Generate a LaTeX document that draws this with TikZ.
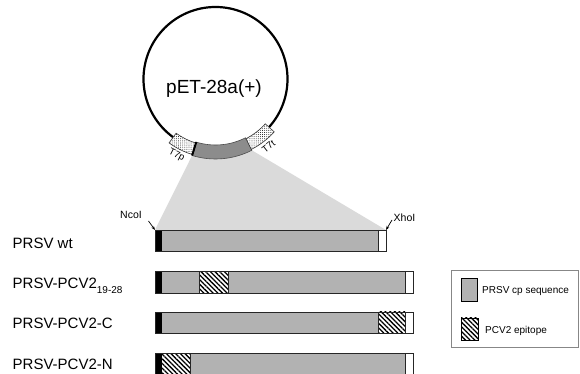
\documentclass[tikz,border=0pt]{standalone}
\usepackage{fontspec}
\setmainfont{Liberation Sans}
\usetikzlibrary{patterns.meta,calc,arrows.meta}
\definecolor{bargray}{RGB}{178,178,178}
\definecolor{bandgray}{RGB}{140,140,140}
\definecolor{projgray}{RGB}{218,218,218}
\definecolor{legframe}{RGB}{135,135,135}
\begin{document}
\begin{tikzpicture}[x=1pt,y=1pt,
  outl/.style={draw=black!85,line width=0.9pt},
  hatchfill/.style={preaction={fill=white},pattern={Lines[angle=-45,distance=3.3pt,line width=1.3pt]},pattern color=black},
  dotfill/.style={preaction={fill=white},pattern={Dots[distance=2.1pt,radius=0.45pt]},pattern color=black},
  barnode/.style={inner sep=0pt,outer sep=0pt,minimum height=21.5pt,anchor=north west,fill=bargray},
  rowlabel/.style={font=\fontsize{15}{18}\selectfont,anchor=base west,inner sep=0pt},
  smalltext/.style={font=\fontsize{10}{12}\selectfont,inner sep=0pt},
  site/.style={font=\fontsize{10.5}{12}\selectfont,anchor=base west,inner sep=0pt},
  tlabel/.style={font=\fontsize{9.5}{10}\selectfont,inner sep=0pt},
  arr/.style={-{Stealth[length=4pt,width=3pt]},line width=0.7pt}]
\clip (0,0) rectangle (580,374);
\fill[white] (0,0) rectangle (580,374);

% plasmid
\coordinate (c) at (215.5,295);
\draw[line width=2.2pt] (c) circle[radius=72];
\node[font=\fontsize{19}{22}\selectfont,anchor=base,inner sep=0pt] (pet) at (214,280) {pET-28a(+)};

% bars (nodes for names)
\node[barnode,minimum width=231pt] (b1) at (155,144) {};
\node[barnode,minimum width=258pt] (b2) at (155,102.5) {};
\node[barnode,minimum width=258pt] (b3) at (155,62) {};
\node[barnode,minimum width=258pt] (b4) at (155,20.5) {};

% projection
\fill[projgray] (b1.north west) -- ($(c)+(253:80)$) arc[start angle=253,end angle=297,radius=80] -- (b1.north east) -- cycle;

% band and promoter/terminator boxes
\draw[fill=bandgray,draw=black!70,line width=0.6pt] ($(c)+(253:66)$) -- ($(c)+(253:80)$) arc[start angle=253,end angle=297,radius=80] -- ($(c)+(297:66)$) arc[start angle=297,end angle=253,radius=66] -- cycle;
\draw[dotfill,draw=black!80,line width=0.6pt] ($(c)+(234:67)$) -- ($(c)+(234:79)$) arc[start angle=234,end angle=253,radius=79] -- ($(c)+(253:67)$) arc[start angle=253,end angle=234,radius=67] -- cycle;
\draw[dotfill,draw=black!80,line width=0.6pt] ($(c)+(297:67)$) -- ($(c)+(297:79)$) arc[start angle=297,end angle=318,radius=79] -- ($(c)+(318:67)$) arc[start angle=318,end angle=297,radius=67] -- cycle;
\draw[line width=2pt] ($(c)+(253:66)$) -- ($(c)+(253:80)$);
\node[tlabel,rotate=-27] (t7p) at ($(c)+(243:86)$) {T7p};
\node[tlabel,rotate=38] (t7t) at ($(c)+(308:86)$) {T7t};

% bar 1: PRSV wt
\fill[black] (155,144) rectangle (162,122.5);
\fill[white] (378,144) rectangle (386,122.5);
\draw[outl] (378,144) -- (378,122.5);
\draw[outl] (b1.north west) rectangle (b1.south east);

% bar 2
\fill[black] (155,102.5) rectangle (162,81);
\path[hatchfill] (199,102.5) rectangle (228,81);
\fill[white] (405,102.5) rectangle (413,81);
\draw[outl] (199,102.5) -- (199,81) (228,102.5) -- (228,81) (405,102.5) -- (405,81);
\draw[outl] (b2.north west) rectangle (b2.south east);

% bar 3
\fill[black] (155,62) rectangle (162,40.5);
\path[hatchfill] (378,62) rectangle (405,40.5);
\fill[white] (405,62) rectangle (413,40.5);
\draw[outl] (378,62) -- (378,40.5) (405,62) -- (405,40.5);
\draw[outl] (b3.north west) rectangle (b3.south east);

% bar 4
\fill[black] (155,20.5) rectangle (162,-1);
\path[hatchfill] (162,20.5) rectangle (190,-1);
\fill[white] (405,20.5) rectangle (413,-1);
\draw[outl] (190,20.5) -- (190,-1) (405,20.5) -- (405,-1);
\draw[outl] (b4.north west) rectangle (b4.south east);

% row labels
\node[rowlabel] (l1) at (12.5,125.7) {PRSV wt};
\node[rowlabel] (l2) at (12.5,85) {PRSV-PCV2\raisebox{-0.32em}{\fontsize{10}{12}\selectfont 19-28}};
\node[rowlabel] (l3) at (12.5,45) {PRSV-PCV2-C};
\node[rowlabel] (l4) at (12.5,4) {PRSV-PCV2-N};

% restriction sites
\node[site] (nco) at (120,155) {NcoI};
\coordinate (ncoA) at (148.5,153);
\draw[arr] (ncoA) -- (b1.north west);
\node[site] (xho) at (393.5,152) {XhoI};
\coordinate (xhoA) at (392,154);
\draw[arr] (xhoA) -- (b1.north east);

% legend
\draw[draw=legframe,line width=0.8pt] (451,104) rectangle (578.5,27);
\node[draw=black,line width=0.8pt,fill=bargray,inner sep=0pt,minimum width=16pt,minimum height=23pt] (sw1) at (469,84.5) {};
\node[draw=black,line width=0.8pt,hatchfill,inner sep=0pt,minimum width=17pt,minimum height=22pt] (sw2) at (469.5,45) {};
\node[smalltext,anchor=base west] (lg1) at (482,80.5) {PRSV cp sequence};
\node[smalltext,anchor=base west] (lg2) at (485,40) {PCV2 epitope};
\end{tikzpicture}
\end{document}
